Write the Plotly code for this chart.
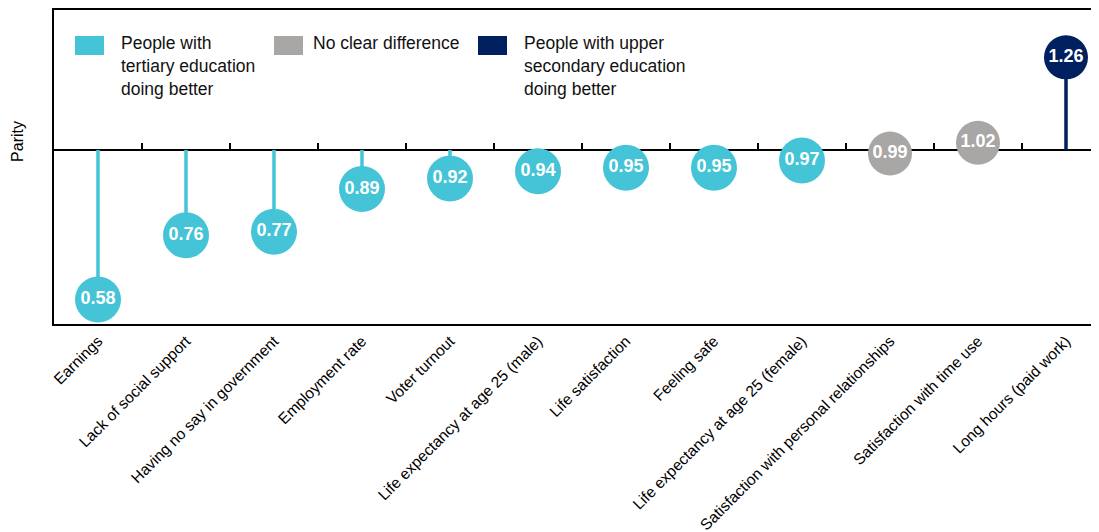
import plotly.graph_objects as go

categories = ["Earnings", "Lack of social support", "Having no say in government",
              "Employment rate", "Voter turnout", "Life expectancy at age 25 (male)",
              "Life satisfaction", "Feeling safe", "Life expectancy at age 25 (female)",
              "Satisfaction with personal relationships", "Satisfaction with time use",
              "Long hours (paid work)"]
values = [0.58, 0.76, 0.77, 0.89, 0.92, 0.94, 0.95, 0.95, 0.97, 0.99, 1.02, 1.26]
groups = ["tertiary"] * 9 + ["none", "none", "upper"]
group_labels = {
    "tertiary": "People with<br>tertiary education<br>doing better",
    "none": "No clear difference",
    "upper": "People with upper<br>secondary education<br>doing better",
}
group_colors = {"tertiary": "#44C4D6", "none": "#A9A6A6", "upper": "#002060"}
parity = 1.0

# page body adds an 8px offset; margins compensate so the plot frame lands where the reference has it
OFF = 8
W, H = 1099, 532
ML, MR, MT, MB = 46, 0, 2, 216
yrange = [0.511, 1.393]
xrange_ = [-0.5, 11.466]
PW = W - ML - MR
PH = H - MT - MB

def px_x(p):
    return (p - OFF - ML) / PW

def px_y(p):
    return 1 - (p - OFF - MT) / PH

fig = go.Figure()

idx = list(range(len(categories)))
# stems
for g in ["tertiary", "none", "upper"]:
    xs, ys = [], []
    for i, v, gg in zip(idx, values, groups):
        if gg == g:
            xs += [i, i, None]
            ys += [parity, v, None]
    fig.add_trace(go.Scatter(x=xs, y=ys, mode="lines", xaxis="x2", yaxis="y",
                             line=dict(color=group_colors[g], width=3.5),
                             hoverinfo="skip", showlegend=False))
# bubbles
for g in ["tertiary", "none", "upper"]:
    xs = [i for i, gg in zip(idx, groups) if gg == g]
    ys = [v for v, gg in zip(values, groups) if gg == g]
    fig.add_trace(go.Scatter(
        x=xs, y=ys, mode="markers+text", xaxis="x2", yaxis="y",
        text=[f"{v:.2f}" for v in ys], textposition="middle center",
        textfont=dict(family="Liberation Sans, Arial", size=18,
                      color="white", weight="bold"),
        marker=dict(size=46 if g == "tertiary" else 44, color=group_colors[g], line=dict(width=0)),
        showlegend=False, hoverinfo="skip"))
# invisible trace so the main category axis (frame + labels) is drawn
fig.add_trace(go.Scatter(x=idx, y=values, mode="markers", xaxis="x", yaxis="y",
                         marker=dict(opacity=0), hoverinfo="skip", showlegend=False))

parity_pos = (parity - yrange[0]) / (yrange[1] - yrange[0])

fig.update_layout(
    width=W, height=H,
    margin=dict(l=ML, r=MR, t=MT, b=MB, autoexpand=False),
    paper_bgcolor="white", plot_bgcolor="white",
    font=dict(family="Arial, Liberation Sans", color="black"),
    showlegend=False,
    xaxis=dict(range=xrange_, tickmode="array", tickvals=idx, ticktext=categories,
               tickangle=-45, tickfont=dict(size=15.5, color="black"),
               showgrid=False, zeroline=False, ticks="", automargin=False,
               showline=True, mirror=True, linecolor="black", linewidth=2),
    xaxis2=dict(range=xrange_, overlaying="x", anchor="free", position=parity_pos,
                side="top", tickmode="array", tickvals=[i + 0.5 for i in idx],
                ticks="outside", ticklen=6, tickwidth=1.5, tickcolor="black",
                showticklabels=False, showgrid=False, zeroline=False, automargin=False,
                showline=True, linecolor="black", linewidth=2, layer="below traces"),
    yaxis=dict(range=yrange, showgrid=False, zeroline=False, showticklabels=False,
               ticks="", showline=True, mirror=False, linecolor="black", linewidth=2,
               automargin=False),
)

fig.add_annotation(text="Parity", xref="paper", yref="y", x=px_x(18), y=parity,
                   yshift=9, textangle=-90, showarrow=False,
                   font=dict(size=16, color="black"), xanchor="center", yanchor="middle")

# legend
legend_items = [("tertiary", 75, 119), ("none", 274, 311), ("upper", 478, 522)]
for g, sx, tx in legend_items:
    fig.add_shape(type="rect", xref="paper", yref="paper",
                  x0=px_x(sx), x1=px_x(sx + 29), y0=px_y(55), y1=px_y(36),
                  fillcolor=group_colors[g], line=dict(width=0))
    fig.add_annotation(text=group_labels[g], xref="paper", yref="paper",
                       x=px_x(tx), y=px_y(31), xanchor="left", yanchor="top",
                       align="left", showarrow=False,
                       font=dict(size=17.5, color="#111"))

fig.write_html("out.html")
